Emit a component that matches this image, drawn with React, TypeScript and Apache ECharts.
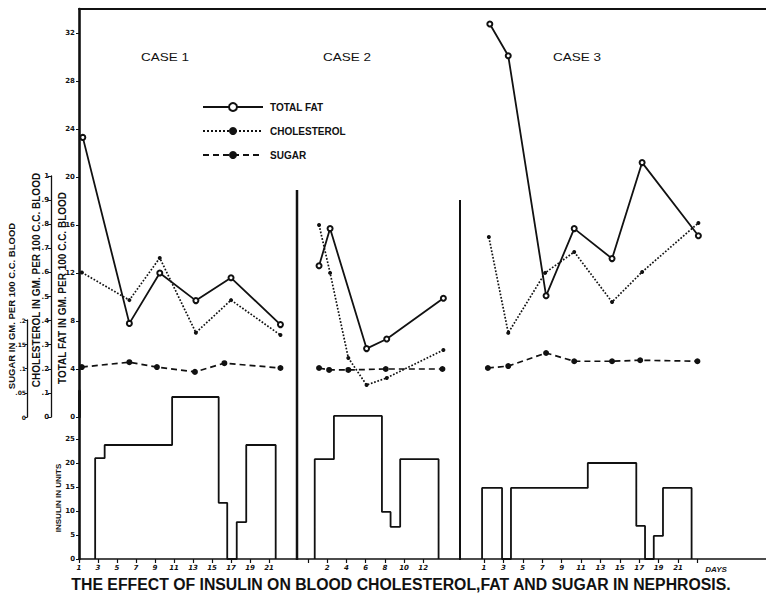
import React, { useEffect, useRef } from "react";
import * as echarts from "echarts";

// ---- Data (days, values) ----
const case1FatDays = [1.4, 6.3, 9.5, 13.3, 17.0, 22.2];
const case1Fat = [23.3, 7.8, 12.0, 9.7, 11.6, 7.7];
const case1CholDays = [1.3, 6.3, 9.5, 13.3, 17.0, 22.2];
const case1Chol = [0.6, 0.485, 0.66, 0.35, 0.485, 0.34];
const case1SugarDays = [1.3, 6.3, 9.2, 13.2, 16.3, 22.2];
const case1Sugar = [0.103, 0.113, 0.103, 0.093, 0.111, 0.101];
const case1InsulinDays = [2.7, 3.7, 10.8, 15.7, 16.6, 17.6, 18.6, 21.7];
const case1Insulin = [21, 23.75, 33.75, 11.7, 0, 7.7, 23.75, 0];

const case2FatDays = [1.15, 2.3, 6.1, 8.2, 14.1];
const case2Fat = [12.6, 15.7, 5.7, 6.5, 9.9];
const case2CholDays = [1.15, 2.3, 4.2, 6.1, 8.2, 14.1];
const case2Chol = [0.797, 0.598, 0.245, 0.133, 0.162, 0.278];
const case2SugarDays = [1.15, 2.2, 4.2, 8.1, 14.0];
const case2Sugar = [0.101, 0.097, 0.097, 0.099, 0.099];
const case2InsulinDays = [0.7, 2.7, 7.7, 8.6, 9.6, 13.6];
const case2Insulin = [20.8, 29.8, 9.8, 6.7, 20.8, 0];

const case3FatDays = [1.6, 3.5, 7.4, 10.3, 14.2, 17.3, 23.1];
const case3Fat = [32.75, 30.1, 10.1, 15.7, 13.2, 21.2, 15.1];
const case3CholDays = [1.5, 3.5, 7.3, 10.3, 14.2, 17.3, 23.1];
const case3Chol = [0.747, 0.349, 0.598, 0.685, 0.477, 0.602, 0.805];
const case3SugarDays = [1.4, 3.5, 7.4, 10.3, 14.2, 17.1, 23.0];
const case3Sugar = [0.101, 0.105, 0.132, 0.115, 0.115, 0.117, 0.115];
const case3InsulinDays = [0.8, 2.86, 3.78, 11.7, 16.7, 17.6, 18.5, 19.45, 22.4];
const case3Insulin = [14.8, 0, 14.8, 20, 6.9, 0, 4.8, 14.8, 0];

// tick labels
const case1Ticks = [1, 3, 5, 7, 9, 11, 13, 15, 17, 19, 21];
const case2Ticks = [2, 4, 6, 8, 10, 12];
const case3Ticks = [1, 3, 5, 7, 9, 11, 13, 15, 17, 19, 21];
const fatTicks = [0, 4, 8, 12, 16, 20, 24, 28, 32];
const cholTicks = [0, 0.1, 0.2, 0.3, 0.4, 0.5, 0.6, 0.7, 0.8, 0.9, 1];
const sugarTicks = [0, 0.05, 0.1, 0.15, 0.2];
const insulinTicks = [0, 5, 10, 15, 20, 25];

const legendNames = ["TOTAL FAT", "CHOLESTEROL", "SUGAR"];
const caseNames = ["CASE 1", "CASE 2", "CASE 3"];
const titleText = "THE EFFECT OF INSULIN ON BLOOD CHOLESTEROL,FAT AND SUGAR IN NEPHROSIS.";

// day-axis extents for the three cases (each case shares the full plot width)
const caseExtents = [
  { min: 1, max: 73.3 },
  { min: -23.85, max: 47.7 },
  { min: -40.75, max: 30.07 },
];

const INK = "#111";
const pairs = (xs: number[], ys: number[]) => xs.map((x, i) => [x, ys[i]]);
const steps = (xs: number[], ys: number[]) => [[xs[0], 0], ...pairs(xs, ys)];

const fmtDec = (v: number) => {
  if (v === 0) return "0";
  if (v === 1) return "1";
  return String(Math.round(v * 100) / 100).replace(/^0/, "");
};

export default function App() {
  const ref = useRef<HTMLDivElement>(null);
  useEffect(() => {
    if (!ref.current) return;
    const chart = echarts.init(ref.current, undefined, { renderer: "svg" });

    const tickFont = { fontSize: 7, color: INK, fontFamily: "DejaVu Sans", fontWeight: "bold" as const };
    const hiddenX = (gridIndex: number, ext: { min: number; max: number }) => ({
      type: "value", gridIndex, min: ext.min, max: ext.max, show: false,
      position: "top", axisLine: { onZero: false }, splitLine: { show: false },
    });
    const bottomX = (gridIndex: number, ext: { min: number; max: number }, ticks: number[], tickMarks: number[], showLine: boolean) => ({
      type: "value", gridIndex, min: ext.min, max: ext.max, position: "bottom",
      axisLine: { show: showLine, onZero: false, lineStyle: { color: INK, width: 1.6 } },
      axisTick: { show: true, customValues: tickMarks, length: 4, lineStyle: { color: INK, width: 1.2 } },
      axisLabel: { customValues: ticks, margin: 5, ...tickFont, fontStyle: "italic" },
      splitLine: { show: false },
    });

    const fatSeries = (i: number, xs: number[], ys: number[]) => ({
      name: "TOTAL FAT", type: "line", xAxisIndex: i, yAxisIndex: 0,
      data: pairs(xs, ys), symbol: "emptyCircle", symbolSize: 5,
      lineStyle: { color: INK, width: 1.8 },
      itemStyle: { color: INK, borderColor: INK, borderWidth: 1.5 },
    });
    const cholSeries = (i: number, xs: number[], ys: number[]) => ({
      name: "CHOLESTEROL", type: "line", xAxisIndex: i, yAxisIndex: 1,
      data: pairs(xs, ys), symbol: "circle", symbolSize: 4,
      lineStyle: { color: INK, width: 1.7, type: "dotted" },
      itemStyle: { color: INK },
    });
    const sugarSeries = (i: number, xs: number[], ys: number[]) => ({
      name: "SUGAR", type: "line", xAxisIndex: i, yAxisIndex: 2,
      data: pairs(xs, ys), symbol: "circle", symbolSize: 6,
      lineStyle: { color: INK, width: 1.7, type: [6, 4] },
      itemStyle: { color: INK },
    });
    const insulinSeries = (i: number, xs: number[], ys: number[]) => ({
      name: "INSULIN", type: "line", xAxisIndex: 3 + i, yAxisIndex: 3,
      data: steps(xs, ys), step: "end", showSymbol: false, symbol: "none",
      lineStyle: { color: INK, width: 1.8 },
    });

    const titleStyle = (text: string, size: number) => ({
      text, fill: INK, fontSize: size, fontWeight: "bold", fontFamily: "Liberation Sans",
      align: "center", verticalAlign: "middle",
    });

    chart.setOption({
      animation: false,
      backgroundColor: "#fff",
      grid: [
        { left: 79, top: 9, width: 687, height: 408 },
        { left: 79, top: 391, width: 687, height: 168 },
        { left: 51, top: 176, width: 1, height: 241 },
        { left: 27, top: 320, width: 1, height: 97 },
      ],
      xAxis: [
        {
          type: "value", gridIndex: 0, min: caseExtents[0].min, max: caseExtents[0].max, position: "top",
          axisLine: { show: true, onZero: false, lineStyle: { color: INK, width: 2 } },
          axisTick: { show: false }, axisLabel: { show: false }, splitLine: { show: false },
        },
        hiddenX(0, caseExtents[1]),
        hiddenX(0, caseExtents[2]),
        bottomX(1, caseExtents[0], case1Ticks, case1Ticks, true),
        bottomX(1, caseExtents[1], case2Ticks, [0, ...case2Ticks], false),
        bottomX(1, caseExtents[2], case3Ticks, [...case3Ticks, 23], false),
        { type: "value", gridIndex: 2, min: 0, max: 1, show: false },
        { type: "value", gridIndex: 3, min: 0, max: 1, show: false },
      ],
      yAxis: [
        {
          type: "value", gridIndex: 0, min: 0, max: 34, position: "left",
          axisLine: { show: true, onZero: false, lineStyle: { color: INK, width: 2.6 } },
          axisTick: { show: true, customValues: fatTicks, length: 3, lineStyle: { color: INK } },
          axisLabel: { customValues: fatTicks, margin: 4, ...tickFont },
          splitLine: { show: false },
        },
        { type: "value", gridIndex: 0, min: 0, max: 408 / 241, show: false, splitLine: { show: false } },
        { type: "value", gridIndex: 0, min: 0, max: 408 / 485, show: false, splitLine: { show: false } },
        {
          type: "value", gridIndex: 1, min: 0, max: 35, position: "left",
          axisLine: { show: true, onZero: false, lineStyle: { color: INK, width: 2.6 } },
          axisTick: { show: true, customValues: insulinTicks, length: 3, lineStyle: { color: INK } },
          axisLabel: { customValues: insulinTicks, margin: 4, ...tickFont },
          splitLine: { show: false },
        },
        {
          type: "value", gridIndex: 2, min: 0, max: 1, position: "left",
          axisLine: { show: true, onZero: false, lineStyle: { color: INK, width: 1.3 } },
          axisTick: { show: true, customValues: cholTicks, length: 3, lineStyle: { color: INK } },
          axisLabel: { customValues: cholTicks, margin: 2, ...tickFont, formatter: fmtDec },
          splitLine: { show: false },
        },
        {
          type: "value", gridIndex: 3, min: 0, max: 0.2, position: "left",
          axisLine: { show: true, onZero: false, lineStyle: { color: INK, width: 1.3 } },
          axisTick: { show: true, customValues: sugarTicks, length: 2, lineStyle: { color: INK } },
          axisLabel: { customValues: sugarTicks, margin: 1, ...tickFont, fontSize: 6, formatter: fmtDec },
          splitLine: { show: false },
        },
      ],
      legend: {
        data: legendNames, orient: "vertical", left: 197, top: 97,
        itemWidth: 60, itemHeight: 10, itemGap: 14, selectedMode: false,
        textStyle: { fontSize: 10, fontWeight: "bold", fontFamily: "Liberation Sans", color: INK, padding: [0, 0, 0, 2] },
      },
      series: [
        fatSeries(0, case1FatDays, case1Fat),
        cholSeries(0, case1CholDays, case1Chol),
        sugarSeries(0, case1SugarDays, case1Sugar),
        fatSeries(1, case2FatDays, case2Fat),
        cholSeries(1, case2CholDays, case2Chol),
        sugarSeries(1, case2SugarDays, case2Sugar),
        fatSeries(2, case3FatDays, case3Fat),
        cholSeries(2, case3CholDays, case3Chol),
        sugarSeries(2, case3SugarDays, case3Sugar),
        insulinSeries(0, case1InsulinDays, case1Insulin),
        insulinSeries(1, case2InsulinDays, case2Insulin),
        insulinSeries(2, case3InsulinDays, case3Insulin),
      ],
      graphic: [
        { type: "line", shape: { x1: 297, y1: 190, x2: 297, y2: 560 }, style: { stroke: INK, lineWidth: 2.5 } },
        { type: "line", shape: { x1: 460, y1: 200, x2: 460, y2: 560 }, style: { stroke: INK, lineWidth: 2 } },
        { type: "text", x: 165, y: 58, scaleX: 1.35, style: { ...titleStyle(caseNames[0], 10), fontWeight: "normal" } },
        { type: "text", x: 347, y: 58, scaleX: 1.35, style: { ...titleStyle(caseNames[1], 10), fontWeight: "normal" } },
        { type: "text", x: 577, y: 58, scaleX: 1.35, style: { ...titleStyle(caseNames[2], 10), fontWeight: "normal" } },
        { type: "text", x: 11, y: 306, rotation: Math.PI / 2, style: titleStyle("SUGAR IN GM. PER 100 C.C. BLOOD", 9.5) },
        { type: "text", x: 36, y: 280, rotation: Math.PI / 2, style: titleStyle("CHOLESTEROL IN GM. PER 100 C.C. BLOOD", 10) },
        { type: "text", x: 62, y: 288, rotation: Math.PI / 2, style: titleStyle("TOTAL FAT IN GM. PER 100 C.C. BLOOD", 10) },
        { type: "text", x: 58, y: 498, rotation: Math.PI / 2, style: titleStyle("INSULIN IN UNITS", 8) },
        { type: "text", x: 716, y: 569, style: { ...titleStyle("DAYS", 8), fontStyle: "italic" } },
        { type: "text", x: 401, y: 584, scaleX: 0.93, style: titleStyle(titleText, 17) },
      ],
    });
    return () => chart.dispose();
  }, []);
  return (
    <div
      ref={ref}
      style={{ position: "fixed", left: 0, top: 0, width: 766, height: 597, background: "#fff" }}
    />
  );
}
